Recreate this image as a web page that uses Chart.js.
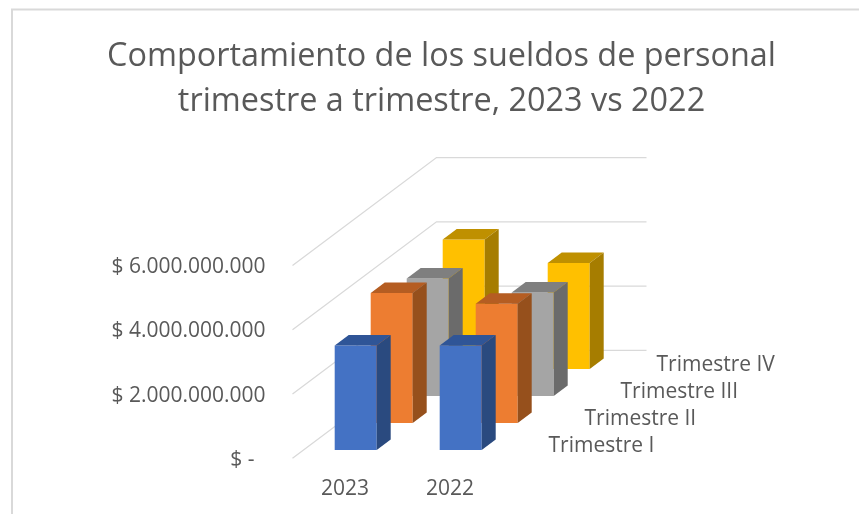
<!DOCTYPE html>
<html><head><meta charset="utf-8">
<style>html,body{margin:0;padding:0;background:#fff}canvas{display:block}</style>
<script src="https://cdn.jsdelivr.net/npm/chart.js@4"></script>
</head><body>
<div style="width:859px;height:514px"><canvas id="c" width="859" height="514"></canvas></div>
<script>
const titleLines = ["Comportamiento de los sueldos de personal", "trimestre a trimestre, 2023 vs 2022"];
const categories = ["2023", "2022"];
const seriesNames = ["Trimestre I", "Trimestre II", "Trimestre III", "Trimestre IV"];
const trimestreI = [3.25e9, 3.25e9];
const trimestreII = [4.05e9, 3.71e9];
const trimestreIII = [3.66e9, 3.22e9];
const trimestreIV = [4.03e9, 3.30e9];
const yTickLabels = ["$ -  ", "$ 2.000.000.000", "$ 4.000.000.000", "$ 6.000.000.000"];
const faceColors = ["#4472C4", "#ED7D31", "#A5A5A5", "#FFC000"];
const topColors = ["#2F5597", "#B55D22", "#7F7F7F", "#BF9000"];
const sideColors = ["#2A4A7F", "#96501C", "#6B6B6B", "#A67D00"];

const FONT = '"Open Sans", sans-serif';
const TEXT = "#595959";
const GRID = "#D9D9D9";
const LABEL_SIZE = 21;
const SLOT_X = 36, SLOT_Y = 27, BAR_X = 14, BAR_Y = 10.5, FRONT_X = 10.7, FRONT_Y = 8.3;

const allValues = [trimestreI, trimestreII, trimestreIII, trimestreIV];

const frame = {
  id: "frame",
  beforeDraw(chart) {
    const c = chart.ctx;
    c.save();
    c.strokeStyle = GRID;
    c.lineWidth = 2;
    c.strokeRect(12, 9.5, chart.width + 20, chart.height + 20);
    c.restore();
  }
};

const walls = {
  id: "walls",
  beforeDatasetsDraw(chart) {
    const c = chart.ctx, a = chart.chartArea, y = chart.scales.y;
    const dx = SLOT_X * seriesNames.length, dy = SLOT_Y * seriesNames.length;
    c.save();
    c.strokeStyle = GRID;
    c.lineWidth = 1.3;
    y.ticks.forEach((t, i) => {
      const p = y.getPixelForTick(i);
      c.beginPath();
      c.moveTo(a.left, p);
      c.lineTo(a.left + dx, p - dy);
      c.lineTo(a.right + dx, p - dy);
      c.stroke();
    });
    c.restore();
  }
};

const depth = {
  id: "depth",
  beforeDatasetDraw(chart, args) {
    const i = args.index, c = chart.ctx;
    c.save();
    c.translate(FRONT_X + SLOT_X * i, -FRONT_Y - SLOT_Y * i);
  },
  afterDatasetDraw(chart, args) {
    const i = args.index, c = chart.ctx;
    args.meta.data.forEach(el => {
      const p = el.getProps(["x", "y", "base", "width"], true);
      const l = p.x - p.width / 2, r = p.x + p.width / 2;
      c.fillStyle = topColors[i];
      c.beginPath();
      c.moveTo(l, p.y); c.lineTo(l + BAR_X, p.y - BAR_Y);
      c.lineTo(r + BAR_X, p.y - BAR_Y); c.lineTo(r, p.y);
      c.closePath(); c.fill();
      c.fillStyle = sideColors[i];
      c.beginPath();
      c.moveTo(r, p.y); c.lineTo(r + BAR_X, p.y - BAR_Y);
      c.lineTo(r + BAR_X, p.base - BAR_Y); c.lineTo(r, p.base);
      c.closePath(); c.fill();
    });
    c.restore();
  }
};

const depthLabels = {
  id: "depthLabels",
  afterDatasetsDraw(chart) {
    const c = chart.ctx, a = chart.chartArea;
    c.save();
    c.font = LABEL_SIZE + "px " + FONT;
    c.fillStyle = TEXT;
    c.textAlign = "left";
    c.textBaseline = "middle";
    seriesNames.forEach((n, i) => {
      c.fillText(n, a.right + 46 + SLOT_X * i, a.bottom - 12.5 - SLOT_Y * i);
    });
    c.restore();
  }
};

new Chart(document.getElementById("c"), {
  type: "bar",
  data: {
    labels: categories,
    datasets: seriesNames.map((n, i) => ({
      label: n,
      data: allValues[i],
      backgroundColor: faceColors[i],
      clip: false,
      grouped: false,
      categoryPercentage: 1,
      barPercentage: 0.4
    }))
  },
  options: {
    responsive: false,
    animation: false,
    layout: { padding: { left: 24, right: 0, top: 0, bottom: 0 } },
    plugins: {
      legend: { display: false },
      tooltip: { enabled: false },
      title: {
        display: true,
        text: titleLines,
        color: TEXT,
        font: { family: FONT, size: 32.4, weight: "normal", lineHeight: 1.39 },
        padding: { top: 34, bottom: 141.5 }
      }
    },
    scales: {
      x: {
        grid: { display: false, drawTicks: false },
        border: { display: false },
        ticks: { color: TEXT, font: { family: FONT, size: LABEL_SIZE }, padding: 18, maxRotation: 0 },
        afterFit(s) { s.height = 55.7; }
      },
      y: {
        min: 0, max: 6e9,
        grid: { display: false, drawTicks: false },
        border: { display: false },
        ticks: {
          stepSize: 2e9, color: TEXT, padding: 27, labelOffset: 1.5,
          font: { family: FONT, size: LABEL_SIZE },
          callback: (v, i) => yTickLabels[i]
        },
        afterFit(s) { s.width = 268.5; }
      },
      spacer: {
        type: "linear", position: "right",
        grid: { display: false, drawTicks: false },
        border: { display: false },
        ticks: { display: false },
        afterFit(s) { s.width = 356.5; }
      }
    }
  },
  plugins: [frame, walls, depth, depthLabels]
});
</script>
</body></html>
